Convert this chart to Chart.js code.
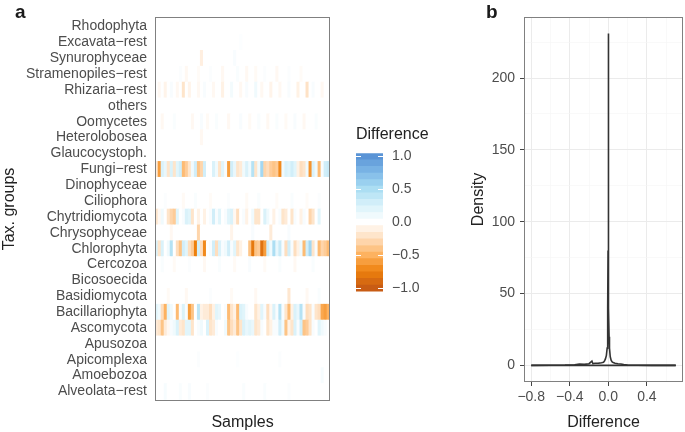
<!DOCTYPE html>
<html>
<head>
<meta charset="utf-8">
<script src="https://cdn.jsdelivr.net/npm/chart.js@4.4.1/dist/chart.umd.min.js"></script>
<style>
  html, body { margin: 0; padding: 0; background: #fff; }
  #wrap { position: relative; width: 685px; height: 432px; overflow: hidden; font-family: "Liberation Sans", Arial, sans-serif; }
  .panel { position: absolute; }
  .tag { position: absolute; font-weight: bold; font-size: 19px; color: #1a1a1a; line-height: 1; }
</style>
</head>
<body>
<div id="wrap">
  <div class="panel" style="left:0;top:0;width:340px;height:432px"><canvas id="heat"></canvas></div>
  <div class="panel" style="left:340px;top:120px;width:120px;height:189px"><canvas id="scale"></canvas></div>
  <div class="panel" style="left:455px;top:0;width:230px;height:432px"><canvas id="dens"></canvas></div>
  <div class="tag" style="left:15px;top:2px">a</div>
  <div class="tag" style="left:486px;top:2px">b</div>
</div>
<script>
// panel a: difference per taxonomic group (rows) and sample (columns)
const diffRhodophyta   = [0,0,0,0,0,0,0,0,0,0, 0,0,0,0,0,0,0,0,0,0, 0,0,0,0,0,0,0,0,0,0, 0,0,0,0,0,0,0,0,0,0, 0,0,0,0,0,0,0,0,0,0, 0,0,0,0,0,0,0,0];
const diffExcavata     = [0,0,0,0,0,0,0,0,0,0, 0,0,0,0,0,0,0,0,0,0, 0,0,0,0,0,0,0,0,0.02,0, 0,0,0,0,0,0,0,0,0,0, 0,0,0,0,0,0,0,0,0,0, 0,0,0,0,0,0,0,0];
const diffSynuro       = [0,0,0,0,0,0,0,0,0,0, 0,0,0,0,0,-0.12,0,0,0,0, 0,0,0,0,0,0,0.05,0,0,0, 0,0,0,0,0,0,0,0,0,0, 0,0,0,0,0,0,0,0,0,0, 0,0,0,0,0,0,0,0];
const diffStrameno     = [0,0,0,0,0,0,0,0,0.03,0, -0.05,0,0,0,-0.03,0,0,0,0.03,0, 0,0,-0.05,0,0,0,0,0.04,0,0, -0.05,0,0,-0.04,0,0,0.03,0,0,0, -0.05,0,0,0,0.03,0,0,0,-0.03,0, 0,0,0,0,0,0,0,0];
const diffRhizaria      = [0,-0.05,0,-0.08,0,0.05,0,-0.05,0,-0.2, 0,-0.08,0,0,-0.05,0,0.05,0,0,-0.05, 0,0,-0.1,0,0,0.08,0,0,-0.05,0, 0.05,0,0,0.1,0,-0.05,0,0,-0.08,0, 0,-0.05,0,0,0.05,0,0,-0.1,0,0, -0.22,0,0.05,0,0,-0.05,0,0];
const diffOthers       = [0,0,0,0,0,0,0,0,0,0, 0,0,0,0,0,0,0,0,0,0, 0,0,0,0,0,0,0,0,0,0, 0,0,0,0,0,0,0,0,0,0, 0,0,0,0,0,0,0,0,0,0, 0,0,0,0,0,0,0,0];
const diffOomycetes    = [0,0,-0.05,0,0,0,0.04,0,0,0, 0,0,-0.05,0,0,0.05,0,-0.04,0,0, 0.04,0,0,0,-0.05,0,0,0,0.05,0, 0,-0.04,0,0,0.04,0,0,-0.05,0,0, 0.04,0,0,-0.04,0,0,0.05,0,0,-0.05, 0,0,0,0.04,0,0,0,0];
const diffHeterolob    = [0,0,0,0,0,0,0,0,0,0, 0,0,0,0,0,-0.05,0,0,0,0, 0,0,0,0,0,0,0,0,0,0, 0,0,0,0,0,0,0,0,0,0, 0,0,0,0,0,0,0,0,0,0, 0,0,0,0,0,0,0,0];
const diffGlauco       = [0,0,0,0,0,0,0,0,0,0, 0,0,0,0,0,0,0,0,0,0, 0,0,0,0,0,0,0,0,0,0, 0,0,0,0,0,0,0,0,0,0, 0,0,0,0,0,0,0,0,0,0, 0,0,0,0,0,0,0,0];
const diffFungi        = [-0.15,-0.6,0.25,0.15,-0.2,0.25,-0.2,0.2,0.3,-0.45, -0.35,-0.2,0.1,0.3,-0.4,-0.3,0.3,0,0,0.25, 0.1,-0.2,0.2,0.05,-0.6,0.3,0.15,-0.2,-0.15,0.1, 0.25,0.1,0.45,-0.2,0.1,0.55,-0.3,-0.25,-0.35,-0.4, -0.35,-0.7,0.1,0.25,0.2,0.3,0.2,-0.1,-0.25,-0.2, 0.1,-0.65,0.25,0.1,-0.45,0.05,0.3,0.35];
const diffDino         = [0,0,0,0,0,0,0,0,0,0, 0,0,0,0,0,0,0,0,0,0, 0,0,0,0,0,0,0,0,0,0, 0,0,0,0,0,0,0,0,0,0, 0,0,0,0,0,0,0,0,0,0, 0,0,0,0,0,0,0,0];
const diffCilio        = [0,0,0,0.03,0,0,0,0,0,-0.04, 0,0,0,0.04,0,0,0,0,-0.03,0, 0,0,0,0,0.03,0,0,0,0,0, -0.04,0,0,0,0.04,0,0,0,0,0, -0.03,0,0,0,0,0.04,0,0,0,0, -0.03,0,0,0,0.03,0,0,0];
const diffChytrid      = [-0.2,-0.05,0.1,0,-0.2,-0.3,-0.35,0.2,0,0.05, 0.25,0.2,-0.2,0,-0.1,0,-0.1,0,0.05,0.3, 0.05,0.2,0,0.05,0.2,0.25,-0.05,-0.25,0,0.05, -0.1,0,0.1,-0.2,-0.2,0,0.25,0.1,0,-0.1, 0,0.05,-0.2,-0.15,0,-0.2,0.05,0,-0.1,0.05, 0,-0.3,-0.2,0,0.2,0,0,0];
const diffChryso       = [0,0,0,0,0,-0.05,0,0,0,0, 0,0,0,0,-0.3,0,0,0,0,0, 0,0,0,0,0,-0.08,0,0,0,0, 0,0,0.05,0,0,0,0,0,-0.15,0, 0,0,0,0,0.05,0,0,0,0,0, 0,0,0,0,0,0,0,0];
const diffChloro       = [0.25,-0.2,0.25,0,0.1,0.45,0,-0.25,-0.4,0.3, 0.2,-0.25,-0.35,-0.75,0.3,-0.25,-0.7,0,0.05,0.3, -0.25,0.25,0.05,0.1,0.3,0.05,0.2,-0.2,-0.1,0, 0,-0.4,-0.8,-0.4,-0.35,-0.85,-0.6,0.3,0.1,0.5, 0.15,0.35,0.05,-0.25,0.3,0.05,-0.25,-0.1,0.1,-0.45, 0.3,0.55,-0.2,0.05,-0.45,-0.3,-0.35,-0.45];
const diffCercozoa     = [0,0,0.04,0,0,0,-0.04,0,0,0, 0,0.03,0,0,0,0,-0.05,0,0,0, 0,0.04,0,0,0,0,-0.04,0,0,0, 0,0.05,0,0,0,0,-0.04,0,0,0, 0,0.04,0,0,0,0,-0.05,0,0,0, 0,0,0.04,0,0,0,0,0];
const diffBicoso       = [0,0,0,0,0,0,0,0,0,0, 0,0,0,0,0,0,0,0,0,0, 0,0,0,0,0,0,0,0,0,0, 0,0,0,0,0,0,0,0,0,0, 0,0,0,0,0,0,0,0,0,0, 0,0,0,0,0,0,0,0];
const diffBasidio      = [0,0,0,0,-0.04,0,0,0,0,0, -0.05,0,0,0,0,0,0,0,0.03,0, 0,0,0,0,0,-0.04,0,0,0,0, 0,0,0,-0.05,0,0,0,0,0,0, 0,0,0,0,-0.18,0,0,0,0,0, -0.05,0,0,0,0.04,0,0,0];
const diffBacillario   = [0.2,0.1,-0.25,-0.5,0.2,0.1,0,-0.45,0.05,0.25, 0.05,-0.6,-0.4,0,0.4,-0.1,-0.15,-0.15,-0.25,-0.1, 0.2,0.15,0,0.05,-0.45,-0.2,-0.1,-0.45,0.25,0.2, 0.05,0,0,-0.2,-0.1,0.2,0.05,-0.25,-0.05,0.25, 0.05,0.45,0.05,-0.2,-0.45,-0.1,0.25,0.15,0.45,0.05, -0.25,-0.2,0.05,-0.2,-0.25,-0.55,-0.6,-0.5];
const diffAscomycota   = [-0.15,-0.2,-0.4,-0.15,-0.05,0.05,0.1,0.25,-0.15,-0.2, 0.2,0.2,-0.2,0,0.05,0.1,0,0.25,-0.2,-0.15, 0.05,0,0,0.1,-0.4,-0.25,-0.15,-0.4,-0.2,0.25, 0.15,0.2,0.15,-0.2,-0.15,0.05,0,-0.2,-0.1,0.05, 0.05,0.3,0.1,-0.4,-0.1,-0.2,0.25,0.05,0.3,-0.4, -0.35,-0.2,0.05,0,0.2,0.1,0.05,0];
const diffApusozoa     = [0,0,0,0,0,0,0,0,0,0, 0,0,0,0,0,0,0,0,0,0, 0,0,0,0,0,0,0,0,0,0, 0,0,0,0,0,0,0,0,0,0, 0,0,0,0,0,0,0,0,0,0, 0,0,0,0,0,0,0,0];
const diffApicomplexa  = [0,0,0,0,0,0,0,0,0,0, 0,0,0,0,0.03,0,0,0,0,0, 0,0,0,0,0,0,0,0.02,0,0, 0,0,0,0,0,0,0,0,0,0, 0,0.03,0,0,0,0,0,0,0,0, 0,0,0,0,0,0,0,0];
const diffAmoebozoa    = [0,0,0,0,0,0,0,0,0,0, 0,0,0,0,0,0,0,0,0,0, 0,0,0,0,0,0,0,0,0,0, 0,0,0,0,0,0,0,0,0,0, 0,0,0,0,0,0,0,0,0,0, 0,0,0,0,0,0.06,0,0];
const diffAlveolata    = [0,0,0,0.06,0,0,0,0,0.04,0, 0,0.05,0,0,0,0,0,0.03,0,0, 0,0,0,0,0,0,0,0,0,0.04, 0,0,0,0,0,0,0.04,0,0,0, 0,0,0,0,0.03,0,0,0,0,0, 0,0,0,0,0,0,0,0];

// row names, top to bottom as drawn
const taxa = ["Rhodophyta", "Excavata\u2212rest", "Synurophyceae", "Stramenopiles\u2212rest", "Rhizaria\u2212rest", "others",
  "Oomycetes", "Heterolobosea", "Glaucocystoph.", "Fungi\u2212rest", "Dinophyceae", "Ciliophora", "Chytridiomycota",
  "Chrysophyceae", "Chlorophyta", "Cercozoa", "Bicosoecida", "Basidiomycota", "Bacillariophyta", "Ascomycota",
  "Apusozoa", "Apicomplexa", "Amoebozoa", "Alveolata\u2212rest"];
const taxaValues = [diffRhodophyta, diffExcavata, diffSynuro, diffStrameno, diffRhizaria, diffOthers,
  diffOomycetes, diffHeterolob, diffGlauco, diffFungi, diffDino, diffCilio, diffChytrid,
  diffChryso, diffChloro, diffCercozoa, diffBicoso, diffBasidio, diffBacillario, diffAscomycota,
  diffApusozoa, diffApicomplexa, diffAmoebozoa, diffAlveolata];

// colour legend
const legendBins = [-1.0, -0.9, -0.8, -0.7, -0.6, -0.5, -0.4, -0.3, -0.2, -0.1, 0, 0.1, 0.2, 0.3, 0.4, 0.5, 0.6, 0.7, 0.8, 0.9, 1.0];
const legendTicks = [-1, -0.5, 0, 0.5, 1];

// panel b: density of differences
const densX = [-0.8, -0.6, -0.45, -0.35, -0.3, -0.25, -0.2, -0.17, -0.16, -0.14, -0.1, -0.07, -0.05, -0.04, -0.03, -0.02, -0.012, -0.008, -0.005, -0.003, -0.0015, 0,
  0.0015, 0.003, 0.005, 0.008, 0.012, 0.02, 0.03, 0.04, 0.05, 0.07, 0.1, 0.13, 0.16, 0.2, 0.3, 0.45, 0.6, 0.7];
const densY = [0.05, 0.1, 0.2, 0.5, 0.9, 0.7, 1.2, 3.0, 1.2, 1.5, 1.6, 1.8, 2.2, 3.0, 4.5, 7, 12, 20, 40, 80, 150, 231,
  150, 80, 40, 20, 12, 6, 3.5, 2.4, 2.0, 1.5, 1.2, 1.0, 0.6, 0.3, 0.15, 0.05, 0.02, 0];
const densXTicks = [-0.8, -0.6, -0.4, -0.2, 0, 0.2, 0.4, 0.6];
const densXMajor = [-0.8, -0.4, 0, 0.4];
const densYTicks = [0, 25, 50, 75, 100, 125, 150, 175, 200, 225];
const densYMajor = [0, 50, 100, 150, 200];

Chart.defaults.font.family = '"Liberation Sans", Arial, sans-serif';
Chart.defaults.color = "#4d4d4d";

const stops = [
  [-1.0, [200, 92, 20]], [-0.75, [238, 128, 12]], [-0.5, [253, 178, 96]], [-0.25, [254, 222, 190]],
  [0, [255, 255, 255]], [0.25, [218, 242, 250]], [0.5, [172, 222, 243]], [0.75, [128, 186, 232]], [1.0, [90, 148, 214]]
];
function diffColor(v) {
  v = Math.max(-1, Math.min(1, v));
  for (let i = 1; i < stops.length; i++) {
    if (v <= stops[i][0]) {
      const [a, ca] = stops[i - 1], [b, cb] = stops[i];
      const t = (v - a) / (b - a);
      const c = ca.map((x, k) => Math.round(x + (cb[k] - x) * t));
      return `rgb(${c[0]},${c[1]},${c[2]})`;
    }
  }
  return "rgb(90,148,214)";
}
const fmt = (v) => (v < 0 ? "\u2212" : "") + Math.abs(v).toFixed(1);

const frame = {
  id: "frame",
  afterDatasetsDraw(chart) {
    const { ctx, chartArea: a } = chart;
    ctx.save();
    ctx.strokeStyle = "#808080";
    ctx.lineWidth = 1;
    ctx.strokeRect(Math.round(a.left) + 0.5, Math.round(a.top) + 0.5, Math.round(a.right - a.left) - 1, Math.round(a.bottom - a.top) - 1);
    ctx.restore();
  }
};

// heatmap as stacked unit bars, bottom row first
const rowsUp = taxa.map((name, i) => [name, taxaValues[i]]).reverse();
const samples = diffFungi.map((_, i) => "S" + (i + 1));

new Chart(document.getElementById("heat"), {
  type: "bar",
  data: {
    labels: samples,
    datasets: rowsUp.map(([name, vals]) => ({
      label: name,
      data: vals.map(() => 1),
      backgroundColor: vals.map(diffColor),
      borderWidth: 0,
      barPercentage: 1,
      categoryPercentage: 1
    }))
  },
  options: {
    animation: false,
    responsive: true,
    maintainAspectRatio: false,
    layout: { padding: { top: 17, right: 10, left: 0, bottom: 0 } },
    plugins: { legend: { display: false }, tooltip: { enabled: false } },
    scales: {
      x: {
        stacked: true,
        grid: { display: false },
        border: { display: false },
        ticks: { display: false },
        title: { display: true, text: "Samples", color: "#222", font: { size: 16 }, padding: { top: 6, bottom: 0 } },
        afterFit(s) { s.height = 31; }
      },
      y: {
        stacked: true,
        min: -0.1,
        max: taxa.length + 0.1,
        grid: { display: false, drawTicks: false },
        border: { display: false },
        afterBuildTicks(s) { s.ticks = rowsUp.map((r, i) => ({ value: i + 0.5 })); },
        ticks: { autoSkip: false, padding: 8, font: { size: 14 }, callback: (v, i) => rowsUp[i][0] },
        title: { display: true, text: "Tax. groups", color: "#222", font: { size: 16 }, padding: { top: 0, bottom: 0 } },
        afterFit(s) { s.width = 155; }
      }
    }
  },
  plugins: [frame]
});

// colour bar legend
const barTicks = {
  id: "barTicks",
  afterDatasetsDraw(chart) {
    const { ctx, chartArea: a } = chart;
    const y = chart.scales.y;
    ctx.save();
    ctx.strokeStyle = "#fff";
    ctx.lineWidth = 1;
    legendTicks.forEach((v) => {
      const p = Math.round(y.getPixelForValue(v)) + 0.5;
      ctx.beginPath();
      ctx.moveTo(a.left, p); ctx.lineTo(a.left + 5, p);
      ctx.moveTo(a.right - 5, p); ctx.lineTo(a.right, p);
      ctx.stroke();
    });
    ctx.restore();
  }
};

new Chart(document.getElementById("scale"), {
  type: "bar",
  data: {
    labels: ["Difference"],
    datasets: legendBins.map((c) => ({
      data: [[c - 0.05, c + 0.05]],
      backgroundColor: diffColor(c),
      borderWidth: 0,
      grouped: false,
      barPercentage: 1,
      categoryPercentage: 1
    }))
  },
  options: {
    animation: false,
    responsive: true,
    maintainAspectRatio: false,
    layout: { padding: { top: 0, right: 0, left: 16, bottom: 10 } },
    plugins: {
      legend: { display: false },
      tooltip: { enabled: false },
      title: { display: true, text: "Difference", align: "start", color: "#222", font: { size: 16, weight: "normal" }, padding: { top: 5, bottom: 9 } }
    },
    scales: {
      x: { display: false },
      y: {
        position: "right",
        min: -1.05,
        max: 1.05,
        grid: { display: false, drawTicks: false },
        border: { display: false },
        afterBuildTicks(s) { s.ticks = legendTicks.map((v) => ({ value: v })); },
        ticks: { autoSkip: false, padding: 9, font: { size: 14 }, callback: (v) => fmt(v) },
        afterFit(s) { s.width = 77; }
      }
    }
  },
  plugins: [barTicks]
});

// density panel
const isIn = (arr, v) => arr.some((m) => Math.abs(m - v) < 1e-9);
const densPts = densX.map((x, i) => ({ x, y: densY[i] }));

new Chart(document.getElementById("dens"), {
  type: "line",
  data: {
    datasets: [
      { data: densPts, borderColor: "#333", borderWidth: 1.6, pointRadius: 0, tension: 0 },
      { data: [{ x: densX[0], y: 0 }, { x: densX[densX.length - 1], y: 0 }], borderColor: "#333", borderWidth: 1.6, pointRadius: 0 }
    ]
  },
  options: {
    animation: false,
    responsive: true,
    maintainAspectRatio: false,
    layout: { padding: { top: 17, right: 2, left: 0, bottom: 0 } },
    plugins: { legend: { display: false }, tooltip: { enabled: false } },
    scales: {
      x: {
        type: "linear",
        min: -0.875,
        max: 0.775,
        afterBuildTicks(s) { s.ticks = densXTicks.map((v) => ({ value: v })); },
        grid: {
          color: (c) => isIn(densXMajor, c.tick.value) ? "#ebebeb" : "#f5f5f5",
          lineWidth: (c) => isIn(densXMajor, c.tick.value) ? 1 : 0.6,
          tickColor: (c) => isIn(densXMajor, c.tick.value) ? "#444" : "rgba(0,0,0,0)",
          tickLength: 4
        },
        border: { display: false },
        ticks: { autoSkip: false, maxRotation: 0, padding: 3, font: { size: 14 }, callback: (v) => isIn(densXMajor, v) ? fmt(v) : "" },
        title: { display: true, text: "Difference", color: "#222", font: { size: 16 }, padding: { top: 10, bottom: 0 } },
        afterFit(s) { s.height = 50; }
      },
      y: {
        min: -11.55,
        max: 242.5,
        afterBuildTicks(s) { s.ticks = densYTicks.map((v) => ({ value: v })); },
        grid: {
          color: (c) => isIn(densYMajor, c.tick.value) ? "#ebebeb" : "#f5f5f5",
          lineWidth: (c) => isIn(densYMajor, c.tick.value) ? 1 : 0.6,
          tickColor: (c) => isIn(densYMajor, c.tick.value) ? "#444" : "rgba(0,0,0,0)",
          tickLength: 4
        },
        border: { display: false },
        ticks: { autoSkip: false, padding: 5, font: { size: 14 }, callback: (v) => isIn(densYMajor, v) ? String(v) : "" },
        title: { display: true, text: "Density", color: "#222", font: { size: 16 }, padding: { top: 14, bottom: 0 } },
        afterFit(s) { s.width = 69; }
      }
    }
  },
  plugins: [frame]
});
</script>
</body>
</html>
